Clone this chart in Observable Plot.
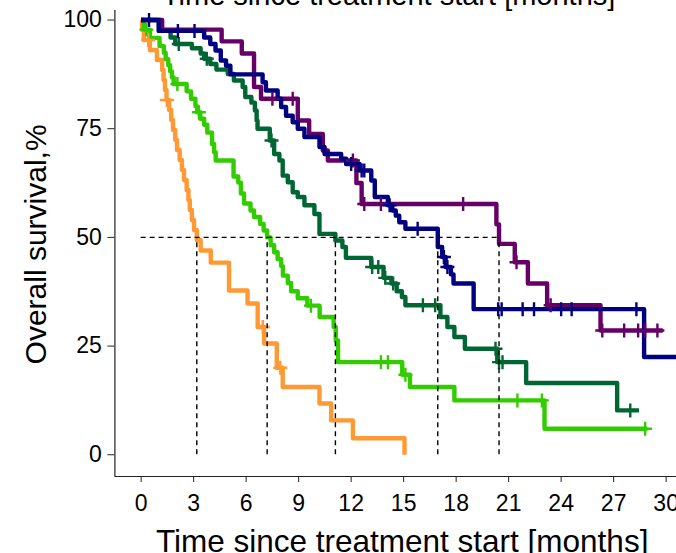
<!DOCTYPE html>
<html>
<head>
<meta charset="utf-8">
<script src="https://cdn.jsdelivr.net/npm/d3@7"></script>
<script src="https://cdn.jsdelivr.net/npm/@observablehq/plot@0.6"></script>
<style>
  html, body { margin: 0; padding: 0; background: #fff; }
  body { width: 676px; height: 553px; overflow: hidden; }
  #chart svg { display: block; overflow: hidden; }
</style>
</head>
<body>
<div id="chart"></div>
<script>
// Kaplan–Meier estimates per group: step times (months) and survival (%) after each step.
const armATime = [0, 0.06, 0.15, 0.5, 0.9, 1.2, 1.28, 1.36, 1.45, 1.6, 1.72, 1.82, 1.95, 2.05, 2.2, 2.33, 2.45, 2.6, 2.7, 2.78, 2.9, 3.02, 3.18, 3.4, 3.98, 5.02, 6.08, 6.66, 7.03, 7.75, 8.09, 10.19, 10.86, 12.1, 15.05];
const armASurv = [100, 97.7, 95.4, 93.1, 90.8, 88.5, 86.2, 83.9, 81.6, 79.3, 77.0, 74.7, 72.4, 70.1, 67.8, 65.5, 63.2, 60.9, 58.6, 56.3, 54.0, 51.7, 49.4, 47.0, 44.2, 37.8, 34.8, 29.4, 25.6, 20.0, 15.6, 11.8, 7.9, 3.8, 0];
const armACensor = [0.4, 1.47, 6.95, 7.95];

const armBTime = [0, 0.15, 0.5, 1.05, 1.3, 1.4, 1.55, 1.66, 1.76, 1.86, 2.6, 2.85, 3.1, 3.2, 3.38, 3.6, 3.78, 4.05, 4.17, 4.26, 5.28, 5.55, 5.7, 5.88, 6.25, 6.45, 6.8, 7.0, 7.2, 7.4, 7.6, 7.8, 8.0, 8.1, 8.38, 8.57, 8.95, 9.5, 10.2, 11.0, 11.12, 11.25, 14.92, 15.36, 17.9, 23.05, 28.93];
const armBSurv = [100, 97.8, 95.9, 94.0, 92.5, 91.0, 89.6, 88.2, 86.8, 85.3, 83.6, 81.9, 80.2, 78.8, 77.3, 75.9, 74.1, 71.5, 69.6, 67.7, 64.0, 62.6, 60.1, 57.8, 56.2, 54.7, 53.1, 51.6, 50.0, 48.2, 46.6, 45.0, 43.4, 41.2, 39.5, 37.6, 36.0, 34.3, 31.7, 29.4, 26.3, 21.3, 18.4, 15.6, 12.5, 6.0, 6.0];
const armBCensor = [0.3, 2.07, 3.3, 9.7, 13.7, 14.1, 15.1, 21.5, 22.9, 28.8];

const armCTime = [0, 1.1, 1.68, 1.95, 2.9, 3.4, 3.6, 3.95, 4.3, 4.95, 5.3, 5.8, 5.95, 6.3, 6.5, 6.6, 6.65, 7.35, 7.6, 7.9, 8.09, 8.38, 8.66, 8.95, 9.33, 9.9, 10.19, 11.1, 11.5, 11.7, 13.15, 13.85, 14.3, 14.6, 14.9, 15.1, 17.1, 17.5, 17.9, 18.5, 20.35, 22.0, 27.2, 28.45];
const armCSurv = [100, 97.6, 96.0, 94.5, 93.5, 92.3, 91.1, 89.9, 88.6, 87.6, 86.1, 84.6, 82.3, 81.0, 79.2, 76.9, 75.0, 72.3, 69.2, 67.7, 64.2, 62.7, 60.4, 59.3, 57.4, 55.4, 50.8, 49.3, 47.8, 45.3, 43.2, 40.7, 39.4, 37.6, 36.3, 34.4, 31.7, 29.4, 27.1, 24.4, 21.3, 16.5, 10.2, 10.2];
const armCCensor = [2.15, 3.75, 7.45, 13.2, 13.55, 13.95, 14.4, 16.1, 16.8, 20.25, 20.45, 20.65, 27.95];

const armDTime = [0, 1.2, 4.6, 5.75, 6.45, 6.85, 8.95, 9.6, 10.38, 10.67, 12.3, 12.6, 20.3, 20.45, 21.35, 22.1, 23.2, 26.25, 29.8];
const armDSurv = [100, 97.8, 95.1, 92.3, 84.6, 81.9, 76.9, 73.8, 70.0, 67.7, 62.5, 57.7, 53.0, 48.5, 44.3, 39.4, 34.4, 28.6, 28.6];
const armDCensor = [7.5, 8.66, 12.1, 12.75, 13.7, 18.4, 21.45, 23.4, 26.35, 27.6, 28.4, 28.8, 29.5];

const armETime = [0, 1.0, 3.6, 3.95, 4.25, 4.55, 4.85, 5.1, 6.94, 7.13, 7.8, 8.0, 8.28, 8.66, 8.95, 9.33, 10.19, 10.48, 11.43, 11.72, 12.48, 13.15, 13.35, 14.1, 14.35, 14.55, 14.75, 15.1, 16.95, 17.2, 17.4, 17.7, 17.85, 19.0, 28.74, 31.5];
const armESurv = [100, 97.5, 96.0, 94.5, 93.0, 90.7, 89.5, 87.5, 85.7, 83.8, 81.9, 80.0, 78.0, 76.5, 75.0, 73.1, 70.8, 69.2, 68.1, 66.9, 65.4, 63.1, 59.3, 57.4, 56.2, 55.0, 53.5, 52.0, 47.8, 45.5, 43.2, 41.5, 39.4, 33.5, 22.5, 22.5];
const armECensor = [0.45, 2.1, 3.05, 12.0, 12.6, 12.75, 14.2, 15.8, 17.3, 17.5, 20.4, 20.6, 21.8, 22.45, 24.0, 24.6, 28.3];

const groupNames = ["A", "B", "C", "D", "E"];
const groupColors = ["#FF9933", "#33CC00", "#006633", "#660066", "#000080"];

const xTicks = [0, 3, 6, 9, 12, 15, 18, 21, 24, 27, 30];
const yTicks = [0, 25, 50, 75, 100];
const xDomain = [-1.5, 31.5];
const yDomain = [-5, 105];
const yAxisTop = 102.2;
const xTitle = "Time since treatment start [months]";
const yTitle = "Overall survival,%";

const series = [
  {name: "A", time: armATime, surv: armASurv, censor: armACensor},
  {name: "B", time: armBTime, surv: armBSurv, censor: armBCensor},
  {name: "C", time: armCTime, surv: armCSurv, censor: armCCensor},
  {name: "D", time: armDTime, surv: armDSurv, censor: armDCensor},
  {name: "E", time: armETime, surv: armESurv, censor: armECensor}
];

// survival level of a step function at time t
function survivalAt(g, t) {
  let s = g.surv[0];
  for (let i = 0; i < g.time.length; i++) if (g.time[i] <= t) s = g.surv[i];
  return s;
}

const stepRows = series.flatMap(g => g.time.map((t, i) => ({group: g.name, t, s: g.surv[i]})));
const censorRows = series.flatMap(g => g.censor.map(t => ({group: g.name, t, s: survivalAt(g, t)})));
// median survival: first time the curve reaches 50% or below
const medians = series.map(g => g.time[g.surv.findIndex(s => s <= 50)]);
const maxMedian = d3.max(medians);

// thin "+" censoring tick
const plusMark = {
  draw(context, size) {
    const r = Math.sqrt(size / Math.PI);
    context.moveTo(-r, 0); context.lineTo(r, 0);
    context.moveTo(0, -r); context.lineTo(0, r);
  }
};

const axisColor = "#222";
const fontFamily = "Liberation Sans, Arial, sans-serif";

const chart = Plot.plot({
  width: 676,
  height: 553,
  marginLeft: 114.4,
  marginRight: -15.9,
  marginTop: -2.2,
  marginBottom: 77,
  style: {fontFamily, fontSize: "23px", color: "#000", background: "#fff", overflow: "hidden"},
  x: {domain: xDomain},
  y: {domain: yDomain},
  color: {domain: groupNames, range: groupColors},
  marks: [
    Plot.axisX({ticks: xTicks, tickSize: 6, tickPadding: 12, label: null, stroke: axisColor, fill: "#000"}),
    Plot.axisY({ticks: yTicks, tickSize: 7, tickPadding: 6, label: null, stroke: axisColor, fill: "#000"}),
    Plot.ruleX([xDomain[0]], {y1: yDomain[0], y2: yAxisTop, stroke: axisColor, strokeWidth: 1.2}),
    Plot.ruleY([yDomain[0]], {stroke: axisColor, strokeWidth: 1.2}),
    Plot.line(stepRows, {x: "t", y: "s", z: "group", stroke: "group", curve: "step-after", strokeWidth: 4.4, strokeLinecap: "butt", strokeLinejoin: "round"}),
    Plot.dot(censorRows, {x: "t", y: "s", stroke: "group", symbol: plusMark, r: 7, fill: "none", strokeWidth: 2.4}),
    Plot.ruleY([50], {x1: 0, x2: maxMedian, stroke: "#000", strokeWidth: 1.4, strokeDasharray: "5,4"}),
    Plot.ruleX(medians, {x: d => d, y1: 0, y2: 50, stroke: "#000", strokeWidth: 1.4, strokeDasharray: "5,4"}),
    // axis title of the panel above, shown cut by the top edge
    Plot.text([xTitle], {frameAnchor: "top", lineAnchor: "bottom", dy: 6.7, dx: -15, fontSize: 29, fill: "#000"}),
    Plot.text([xTitle], {frameAnchor: "bottom", lineAnchor: "bottom", dy: 75, dx: -1.5, fontSize: 31.5, fill: "#000"}),
    Plot.text([yTitle], {frameAnchor: "left", textAnchor: "middle", lineAnchor: "bottom", rotate: -90, dx: -69, dy: 7, fontSize: 30, fill: "#000"})
  ]
});

document.getElementById("chart").appendChild(chart);
</script>
</body>
</html>
